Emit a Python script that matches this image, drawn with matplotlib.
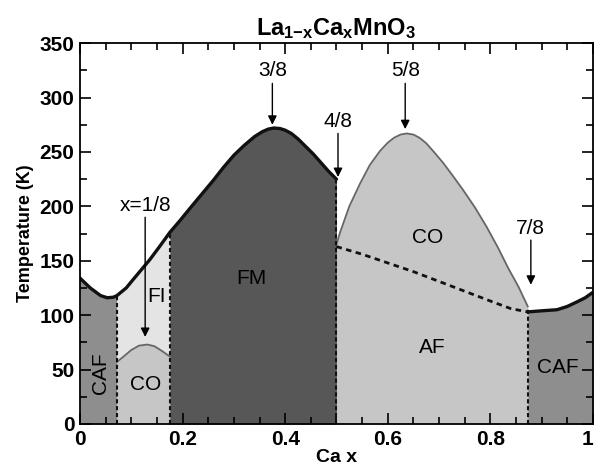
import numpy as np
import matplotlib.pyplot as plt
from matplotlib.ticker import MultipleLocator

plt.rcParams['font.family'] = ['Liberation Sans', 'DejaVu Sans']
plt.rcParams['mathtext.fontset'] = 'custom'
plt.rcParams['mathtext.rm'] = 'Liberation Sans'
plt.rcParams['mathtext.bf'] = 'Liberation Sans:bold'
plt.rcParams['mathtext.it'] = 'Liberation Sans:italic'

# upper boundary (solid black) from x=0 to x=1/2
env_x = [0.0, 0.02, 0.04, 0.053, 0.065, 0.072, 0.09, 0.104, 0.12, 0.136, 0.155, 0.175,
         0.195, 0.214, 0.237, 0.26, 0.28, 0.30, 0.32, 0.34, 0.355, 0.367, 0.378,
         0.39, 0.40, 0.412, 0.425, 0.44, 0.455, 0.47, 0.485, 0.50]
env_T = [134, 125, 118, 116, 116.5, 118, 125, 133, 142, 151, 163, 176,
         187, 198, 211, 224, 236, 247, 256, 264, 268.5, 271, 272,
         271.5, 270, 267, 262, 255, 248, 240, 232, 225]

# small charge-ordered dome near x=1/8
co1_x = [0.072, 0.085, 0.10, 0.115, 0.131, 0.145, 0.16, 0.175]
co1_T = [57, 62, 68, 72, 73, 71.5, 67, 62]

# charge-ordered dome, x=1/2 .. 7/8
co2_x = [0.50, 0.507, 0.525, 0.546, 0.565, 0.585, 0.60, 0.612, 0.625, 0.637, 0.65,
         0.662, 0.675, 0.69, 0.708, 0.727, 0.747, 0.77, 0.793, 0.815, 0.834, 0.855, 0.873]
co2_T = [165, 176, 200, 221, 238, 251, 258.5, 263, 266, 267, 266,
         263, 258, 250, 240, 228, 215, 199, 181, 162, 144, 126, 108]

# AF/CO boundary (dashed)
af_x = [0.50, 0.55, 0.60, 0.65, 0.70, 0.75, 0.80, 0.84, 0.873]
af_T = [163, 156, 148, 140, 131, 122, 113, 106, 103]

# right CAF top boundary
caf_x = [0.873, 0.90, 0.93, 0.95, 0.968, 0.985, 1.0]
caf_T = [103, 104, 105, 108, 112, 116, 121]

# vertical phase limits (x, top T)
vlines = [(0.072, 118), (0.175, 176), (0.50, 225), (0.873, 106)]

# arrow annotations: label, x, label T, tail T, head T
arrows = [('x=1/8', 0.127, 192, 190, 80),
          ('3/8', 0.375, 316, 313, 275),
          ('4/8', 0.503, 269, 267, 227),
          ('5/8', 0.634, 316, 313, 271),
          ('7/8', 0.879, 171, 169, 128)]

# region labels: text, x, T, rotation
labels = [('CAF', 0.040, 47, 90), ('CO', 0.127, 36, 0), ('FI', 0.15, 117, 0),
          ('FM', 0.335, 134, 0), ('CO', 0.677, 171, 0), ('AF', 0.686, 70, 0),
          ('CAF', 0.932, 52, 0)]

c_caf = '#8e8e8e'
c_fi = '#e4e4e4'
c_co = '#c6c6c6'
c_fm = '#575757'

fig = plt.figure(figsize=(5.95, 4.69), dpi=100)
ax = fig.add_axes([0.1345, 0.096, 0.862, 0.812])

ex = np.array(env_x)
eT = np.array(env_T)

# left CAF
m = ex <= 0.072
ax.fill_between(ex[m], 0, eT[m], color=c_caf, lw=0)
# FI
m = (ex >= 0.072) & (ex <= 0.175)
ax.fill(list(ex[m]) + co1_x[::-1], list(eT[m]) + co1_T[::-1], color=c_fi, lw=0)
# small CO
ax.fill_between(co1_x, 0, co1_T, color=c_co, lw=0)
# FM
m = ex >= 0.175
ax.fill_between(ex[m], 0, eT[m], color=c_fm, lw=0)
# CO + AF
ax.fill_between(co2_x, 0, co2_T, color=c_co, lw=0)
# right CAF
ax.fill_between(caf_x, 0, caf_T, color=c_caf, lw=0)

ax.plot(env_x, env_T, color='#111111', lw=2.4, solid_capstyle='round', solid_joinstyle='round')
ax.plot(caf_x, caf_T, color='#111111', lw=2.4, solid_capstyle='round', solid_joinstyle='round')
ax.plot(co1_x, co1_T, color='#666666', lw=1.3)
ax.plot(co2_x, co2_T, color='#666666', lw=1.3)
ax.plot(af_x, af_T, color='#111111', lw=2, ls=(0, (2, 1.6)))
for vx, vt in vlines:
    ax.plot([vx, vx], [0, vt], color='#111111', lw=1.5, ls=(0, (2, 1.3)))

for txt, x, ty, t0, t1 in arrows:
    ax.annotate('', xy=(x, t1), xytext=(x, t0),
                arrowprops=dict(arrowstyle='-|>', lw=1, color='black',
                                mutation_scale=13, shrinkA=0, shrinkB=0))
    ax.text(x, ty, txt, ha='center', va='bottom', fontsize=15)

for txt, x, ty, rot in labels:
    ax.text(x, ty, txt, ha='center', va='center', fontsize=15, rotation=rot)

ax.set_xlim(0, 1)
ax.set_ylim(0, 350)
ax.xaxis.set_major_locator(MultipleLocator(0.2))
ax.xaxis.set_minor_locator(MultipleLocator(0.05))
ax.yaxis.set_major_locator(MultipleLocator(50))
ax.yaxis.set_minor_locator(MultipleLocator(25))
ax.set_xticks([0, 0.2, 0.4, 0.6, 0.8, 1.0])
ax.set_xticklabels(['0', '0.2', '0.4', '0.6', '0.8', '1'])
ax.tick_params(which='both', direction='in', top=True, right=True, width=1.2)
ax.tick_params(which='major', length=8, labelsize=15, pad=4)
ax.tick_params(which='minor', length=5)
for lab in ax.get_xticklabels() + ax.get_yticklabels():
    lab.set_fontweight('bold')
ax.get_xticklabels()[-1].set_horizontalalignment('right')
for sp in ax.spines.values():
    sp.set_linewidth(1.3)

ax.set_xlabel('Ca x', fontsize=14, fontweight='bold', labelpad=0)
ax.set_ylabel('Temperature (K)', fontsize=13, fontweight='bold', labelpad=4)
ax.set_title(r'La$_{\mathbf{1{-}x}}$Ca$_{\mathbf{x}}$MnO$_{\mathbf{3}}$',
             fontsize=17, fontweight='bold', pad=6)

fig.savefig('out.png', dpi=100)
